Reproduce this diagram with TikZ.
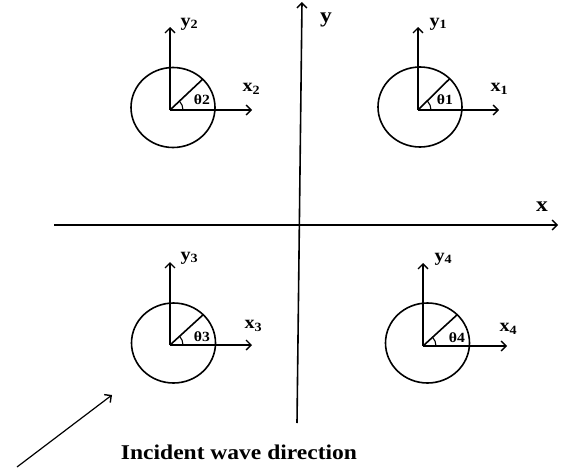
\documentclass[tikz,border=0pt]{standalone}
\usepackage{fontspec}
\setmainfont{Liberation Serif}[FakeStretch=1.12]
\usetikzlibrary{arrows.meta,calc}
\begin{document}
\begin{tikzpicture}[x=1pt,y=-1pt,
  axis/.style={line width=1.6pt,-{Straight Barb[length=5pt,width=10pt,line width=1.4pt]}},
  ring/.style={line width=1.6pt},
  lab/.style={font=\bfseries\fontsize{18}{20}\selectfont,inner sep=0pt},
  big/.style={font=\bfseries\fontsize{21}{23}\selectfont,inner sep=0pt},
  thl/.style={font=\bfseries\fontsize{14}{16}\selectfont,inner sep=0pt}]
\useasboundingbox (0,0) rectangle (565,471);
% main axes
\coordinate (xl) at (54,225);
\coordinate (xr) at (558,225);
\coordinate (yb) at (297,423);
\coordinate (yt) at (302,2);
\draw[axis] (xl) -- (xr);
\draw[axis] (yb) -- (yt);
\node[big] (X) at (542,207) {x};
\node[big] (Y) at (326,20) {y};
% local frames: origin, circle centre, label positions
\foreach \i/\ox/\oy/\cx/\cy/\tx/\ty/\yx/\yy/\xx/\xy/\ye/\xe in {
  1/418/110/420/107/445/100/438/24/499/89/27/499,
  2/170/110/173/107.5/202/100/189/24/251/89/27/252,
  3/170/345/173.5/343/202/337/189/258/253/326/262/252,
  4/423/346/427.5/343/457/338/443/259/508/329/263/507} {
  \coordinate (o\i) at (\ox,\oy);
  \coordinate (c\i) at (\cx,\cy);
  \coordinate (ya\i) at (\ox,\ye);
  \coordinate (xa\i) at (\xe,\oy);
  \draw[ring] (c\i) ellipse [x radius=42, y radius=40];
  \coordinate (r\i) at ($(c\i)+(29.7,-28.3)$);
  \draw[axis] (o\i) -- (ya\i);
  \draw[axis] (o\i) -- (xa\i);
  \draw[ring] (o\i) -- (r\i);
  \draw[line width=1.1pt] ($(o\i)+(13,0)$) arc[start angle=0,end angle=-43,radius=13];
  \node[thl] (t\i) at (\tx,\ty) {θ\i};
  \node[lab] (ly\i) at (\yx,\yy) {y$_{\mathbf{\i}}$};
  \node[lab] (lx\i) at (\xx,\xy) {x$_{\mathbf{\i}}$};
}
% incident wave
\coordinate (ws) at (17,467);
\coordinate (we) at (112,395);
\draw[axis,line width=1.2pt] (ws) -- (we);
\node[font=\bfseries\fontsize{21}{23}\selectfont,inner sep=0pt] (inc) at (239,452) {Incident wave direction};
\end{tikzpicture}
\end{document}
